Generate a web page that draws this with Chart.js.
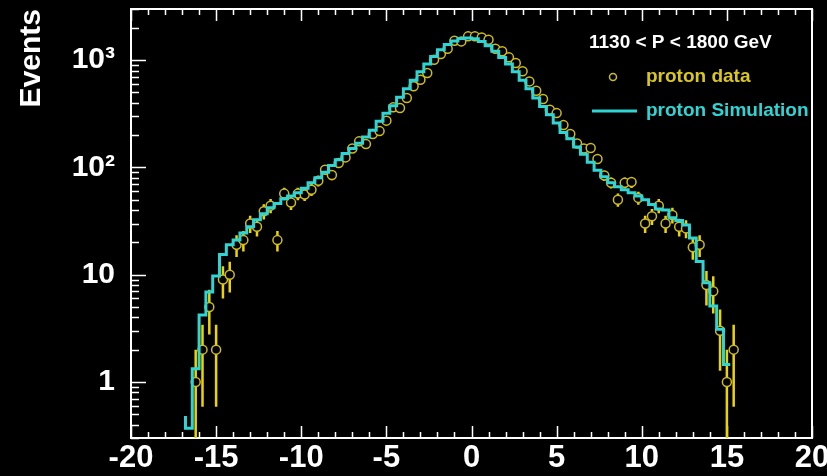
<!DOCTYPE html>
<html>
<head>
<meta charset="utf-8">
<script src="https://cdn.jsdelivr.net/npm/chart.js@4.4.1/dist/chart.umd.min.js"></script>
<style>
  html, body { margin: 0; padding: 0; background: #000; }
  #chart { display: block; }
</style>
</head>
<body>
<canvas id="chart" width="827" height="476"></canvas>
<script>
// bin centres, 0.4 wide bins from -20 to 20
const binCenters = [
  -19.8, -19.4, -19.0, -18.6, -18.2, -17.8, -17.4, -17.0, -16.6, -16.2,
  -15.8, -15.4, -15.0, -14.6, -14.2, -13.8, -13.4, -13.0, -12.6, -12.2,
  -11.8, -11.4, -11.0, -10.6, -10.2, -9.8, -9.4, -9.0, -8.6, -8.2,
  -7.8, -7.4, -7.0, -6.6, -6.2, -5.8, -5.4, -5.0, -4.6, -4.2,
  -3.8, -3.4, -3.0, -2.6, -2.2, -1.8, -1.4, -1.0, -0.6, -0.2,
  0.2, 0.6, 1.0, 1.4, 1.8, 2.2, 2.6, 3.0, 3.4, 3.8,
  4.2, 4.6, 5.0, 5.4, 5.8, 6.2, 6.6, 7.0, 7.4, 7.8,
  8.2, 8.6, 9.0, 9.4, 9.8, 10.2, 10.6, 11.0, 11.4, 11.8,
  12.2, 12.6, 13.0, 13.4, 13.8, 14.2, 14.6, 15.0, 15.4, 15.8,
  16.2, 16.6, 17.0, 17.4, 17.8, 18.2, 18.6, 19.0, 19.4, 19.8
];
const binWidth = 0.4;

// proton Simulation (histogram)
const simValues = [
  0, 0, 0, 0, 0, 0, 0, 0, 0.48, 0.37,
  1.33, 4.2, 6.9, 9.7, 15.4, 19, 21, 24.5, 28, 32.6,
  37, 42, 46, 51, 54, 58, 64, 72, 80, 90,
  104, 118, 135, 150, 168, 192, 222, 270, 320, 375,
  450, 540, 650, 780, 920, 1080, 1250, 1400, 1510, 1590,
  1610, 1580, 1490, 1360, 1210, 1060, 920, 780, 650, 540,
  445, 370, 310, 259, 212, 185, 155, 133, 112, 94,
  82, 72, 66, 62, 58, 54, 50, 45, 41, 40,
  34, 32, 29, 22, 13.3, 8.4, 5.1, 3.1, 1.45, 0,
  0, 0, 0, 0, 0, 0, 0, 0, 0, 0
];

// proton data (counts, null = empty bin)
const dataValues = [
  null, null, null, null, null, null, null, null, null, 1,
  2, 5, 2, 9, 10, 19, 21, 30, 28, 39,
  44, 21, 57, 47, 57, 56, 62, 75, 95, 85,
  110, 124, 150, 175, 165, 205, 218, 273, 363, 358,
  444, 570, 657, 758, 1009, 1140, 1277, 1517, 1497, 1667,
  1667, 1630, 1550, 1277, 1210, 1062, 940, 787, 634, 518,
  434, 345, 321, 248, 205, 167, 150, 152, 120, 84,
  72, 50, 72, 73, 52, 30, 35, 44, 30, 36,
  28, 27, 18, 19, 8, 7, 3, 1, 2, null,
  null, null, null, null, null, null, null, null, null, null
];

const xTickValues = [-20, -15, -10, -5, 0, 5, 10, 15, 20];
const yTickValues = [1, 10, 100, 1000];
const yTickLabels = ['1', '10', '10\u00B2', '10\u00B3'];

const cyan = '#2fd4d4';
const barYellow = '#ecd400';
const circleYellow = '#cfbc1c';
const fontFamily = "'Liberation Sans', Arial, Helvetica, sans-serif";

// step outline: left edge of every bin, then the right edge of the last bin
const simSteps = binCenters.map((c, i) => ({x: c - binWidth / 2, y: simValues[i]}));
simSteps.push({x: binCenters[binCenters.length - 1] + binWidth / 2, y: simValues[simValues.length - 1]});

const dataPoints = binCenters
  .map((c, i) => ({x: c, y: dataValues[i]}))
  .filter(p => p.y !== null);

// frame, inward ticks and the sqrt(N) error bars
const framePlugin = {
  id: 'frame',
  beforeDatasetsDraw(chart) {
    const {ctx, chartArea: a, scales: {x, y}} = chart;
    ctx.save();
    ctx.strokeStyle = '#fff';
    ctx.lineWidth = 2;
    ctx.strokeRect(a.left, a.top, a.right - a.left, a.bottom - a.top);

    ctx.lineWidth = 1.5;
    ctx.beginPath();
    for (let v = -20; v <= 20; v++) {
      const px = Math.round(x.getPixelForValue(v)) + 0.5;
      const len = v % 5 === 0 ? 12 : 6;
      ctx.moveTo(px, a.bottom);
      ctx.lineTo(px, a.bottom - len);
      ctx.moveTo(px, a.top);
      ctx.lineTo(px, a.top + len);
    }
    [0.1, 1, 10, 100, 1000].forEach(dec => {
      for (let m = 1; m <= 9; m++) {
        const v = dec * m;
        if (v < y.min || v > y.max) continue;
        const py = Math.round(y.getPixelForValue(v)) + 0.5;
        const len = m === 1 ? 15 : 8;
        ctx.moveTo(a.left, py);
        ctx.lineTo(a.left + len, py);
      }
    });
    ctx.stroke();

    ctx.beginPath();
    ctx.rect(a.left, a.top, a.right - a.left, a.bottom - a.top);
    ctx.clip();
    ctx.strokeStyle = barYellow;
    ctx.lineWidth = 2.5;
    ctx.beginPath();
    dataPoints.forEach(p => {
      const err = Math.sqrt(p.y);
      const px = x.getPixelForValue(p.x);
      const hi = y.getPixelForValue(p.y + err);
      const lo = p.y - err > 0 ? y.getPixelForValue(p.y - err) : a.bottom;
      ctx.moveTo(px, hi);
      ctx.lineTo(px, lo);
    });
    ctx.stroke();
    ctx.restore();
  }
};

// legend box in the upper right corner
const legendPlugin = {
  id: 'rootLegend',
  afterDraw(chart) {
    const {ctx} = chart;
    ctx.save();
    ctx.textBaseline = 'middle';
    ctx.textAlign = 'left';
    ctx.font = 'bold 19px ' + fontFamily;
    ctx.fillStyle = '#fff';
    ctx.fillText('1130 < P < 1800 GeV', 589, 43);

    ctx.strokeStyle = circleYellow;
    ctx.lineWidth = 1.5;
    ctx.beginPath();
    ctx.arc(613, 77, 3.5, 0, Math.PI * 2);
    ctx.stroke();
    ctx.fillStyle = '#d9c61e';
    ctx.fillText('proton data', 646, 77);

    ctx.strokeStyle = cyan;
    ctx.lineWidth = 3;
    ctx.beginPath();
    ctx.moveTo(592, 111);
    ctx.lineTo(637, 111);
    ctx.stroke();
    ctx.fillStyle = cyan;
    ctx.fillText('proton Simulation', 646, 111);
    ctx.restore();
  }
};

new Chart(document.getElementById('chart'), {
  type: 'line',
  data: {
    datasets: [
      {
        label: 'proton Simulation',
        data: simSteps,
        stepped: 'after',
        borderColor: cyan,
        borderWidth: 3,
        pointRadius: 0,
        fill: false
      },
      {
        label: 'proton data',
        data: dataPoints,
        showLine: false,
        pointStyle: 'circle',
        pointRadius: 4.5,
        pointBorderWidth: 1.5,
        pointBorderColor: circleYellow,
        pointBackgroundColor: '#000'
      }
    ]
  },
  options: {
    responsive: false,
    animation: false,
    devicePixelRatio: 1,
    layout: {padding: {left: 0, right: 15, top: 9, bottom: 0}},
    plugins: {
      legend: {display: false},
      tooltip: {enabled: false}
    },
    scales: {
      x: {
        type: 'linear',
        min: -20,
        max: 20,
        afterFit(s) {
          s.height = 38;
          s.paddingLeft = 0;
          s.paddingRight = 0;
        },
        afterBuildTicks(s) {
          s.ticks = xTickValues.map(v => ({value: v}));
        },
        grid: {display: false, drawTicks: false},
        border: {display: false},
        ticks: {
          color: '#fff',
          padding: 2,
          autoSkip: false,
          maxRotation: 0,
          font: {family: fontFamily, size: 31, weight: 'bold'}
        }
      },
      y: {
        type: 'logarithmic',
        min: 0.3,
        max: 3000,
        afterFit(s) {
          s.width = 131;
          s.paddingTop = 0;
          s.paddingBottom = 0;
        },
        afterBuildTicks(s) {
          s.ticks = yTickValues.map(v => ({value: v}));
        },
        grid: {display: false, drawTicks: false},
        border: {display: false},
        ticks: {
          color: '#fff',
          padding: 16,
          autoSkip: false,
          font: {family: fontFamily, size: 30, weight: 'bold'},
          callback: (value, index) => yTickLabels[index]
        },
        title: {
          display: true,
          text: 'Events',
          align: 'end',
          color: '#fff',
          padding: {top: 14, bottom: 0},
          font: {family: fontFamily, size: 30, weight: 'bold'}
        }
      }
    }
  },
  plugins: [framePlugin, legendPlugin]
});
</script>
</body>
</html>
